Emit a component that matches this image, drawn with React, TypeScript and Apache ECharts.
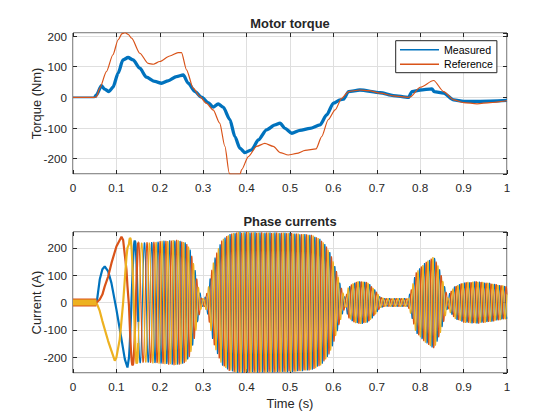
import React, { useEffect, useRef } from "react";
import * as echarts from "echarts";

const BLUE = "#0072BD";
const ORANGE = "#D95319";
const YELLOW = "#EDB120";
const INK = "#262626";
const GRIDC = "#dfdfdf";
const FONT = "Liberation Sans, Arial, Helvetica, sans-serif";

const X_TICKS = [0, 0.1, 0.2, 0.3, 0.4, 0.5, 0.6, 0.7, 0.8, 0.9, 1];

// Motor torque (Nm): [time s, value]
const TORQUE_REF: number[][] = [
  [0, 0], [0.05, 0], [0.054, 2], [0.0617, 30], [0.077, 84], [0.092, 139], [0.104, 188],
  [0.113, 208], [0.12, 211], [0.127, 206], [0.135, 193], [0.154, 144], [0.173, 111],
  [0.185, 108], [0.2, 117], [0.223, 135], [0.242, 146], [0.25, 146], [0.2615, 90],
  [0.277, 30], [0.292, 3], [0.307, -19], [0.323, -41], [0.338, -84], [0.35, -160],
  [0.36, -247], [0.362, -250], [0.385, -250], [0.3885, -236], [0.404, -193], [0.423, -160],
  [0.442, -150], [0.4615, -160], [0.477, -180], [0.496, -188], [0.5155, -183], [0.535, -173],
  [0.56, -168], [0.573, -128], [0.588, -73], [0.604, -41], [0.619, -3], [0.635, 19],
  [0.661, 24], [0.681, 22], [0.708, 14], [0.738, 5], [0.773, 0], [0.777, 2], [0.8, 33],
  [0.831, 55], [0.854, 19], [0.877, -8], [0.9, -17], [0.931, -21], [0.961, -17], [1, -11],
];

// measured torque: quiet part before start, then the noisy part
const TORQUE_MEAS_IDLE: number[][] = [[0, 0], [0.05, 0]];
const TORQUE_MEAS: number[][] = [
  [0.05, 0], [0.054, 8], [0.0654, 38], [0.073, 27], [0.083, 19], [0.092, 33],
  [0.104, 79], [0.115, 122], [0.127, 130], [0.1385, 122], [0.154, 95], [0.169, 66],
  [0.1885, 52], [0.204, 46], [0.219, 54], [0.2385, 68], [0.254, 73], [0.2655, 46],
  [0.281, 19], [0.296, 1], [0.3115, -17], [0.323, -32], [0.3345, -21], [0.346, -32],
  [0.3615, -73], [0.373, -128], [0.3846, -166], [0.396, -180], [0.4115, -171], [0.427, -139],
  [0.446, -106], [0.4655, -90], [0.477, -84], [0.4885, -101], [0.504, -117], [0.523, -108],
  [0.546, -101], [0.569, -90], [0.5845, -57], [0.6, -19], [0.6155, -8], [0.623, -6],
  [0.635, 19], [0.661, 24], [0.708, 15], [0.738, 6], [0.773, 0], [0.781, 19], [0.8, 24],
  [0.827, 28], [0.832, 19], [0.854, 14], [0.877, -8], [0.9, -13], [0.938, -13], [1, -10],
];

// Phase currents (A), start-up part read point by point
const IA_START: number[][] = [
  [0, 0], [0.055, 4], [0.0616, 84], [0.0677, 122], [0.0731, 132], [0.081, 114],
  [0.0886, 71], [0.1, -25], [0.1117, -134], [0.1194, -207], [0.1255, -238],
];
const IB_START: number[][] = [
  [0, 0], [0.055, 1], [0.0616, 11], [0.0677, 29], [0.0731, 59], [0.081, 95],
  [0.0886, 144], [0.1, 205], [0.1117, 241], [0.1155, 229], [0.1232, 120], [0.1255, 60],
];
const IC_START: number[][] = [
  [0, 0], [0.055, -4], [0.0616, -31], [0.0677, -68], [0.0731, -98], [0.081, -141],
  [0.0886, -177], [0.0963, -213], [0.1, -201], [0.1078, -134], [0.1155, -1],
  [0.1232, 168], [0.1255, 200],
];

// Later part: amplitude envelope (A) and electrical frequency (Hz)
const ENV_T = [
  0.129, 0.14, 0.16, 0.2, 0.24, 0.26, 0.27, 0.28, 0.29, 0.297, 0.303, 0.31, 0.323, 0.331,
  0.343, 0.36, 0.38, 0.5, 0.55, 0.57, 0.58, 0.592, 0.6, 0.61, 0.62, 0.628, 0.634, 0.645,
  0.66, 0.68, 0.694, 0.708, 0.72, 0.772, 0.78, 0.79, 0.81, 0.832, 0.845, 0.857, 0.864,
  0.868, 0.88, 0.9, 0.93, 0.96, 0.98, 1.0,
];
const ENV_A = [
  240, 228, 220, 225, 230, 220, 195, 130, 50, 15, 15, 40, 145, 182,
  229, 250, 258, 255, 248, 232, 215, 185, 150, 100, 45, 15, 55, 72,
  80, 74, 50, 20, 15, 15, 50, 110, 145, 170, 120, 55, 15,
  35, 60, 74, 78, 72, 66, 60,
];
const FREQ_T = [0.129, 0.14, 0.15, 0.165, 0.18, 0.2, 0.23, 0.26, 1.0];
const FREQ_HZ = [26, 33, 42, 55, 64, 73, 82, 87, 87];
const MODEL_T0 = 0.129;
const MODEL_THETA0_DEG = 213;
const MODEL_DT = 0.0003;
const THICK_UNTIL = 0.15; // low-speed part drawn with a heavier (noisy) stroke

// Sensor noise band before start (width drawn as a thick line)
const NOISE_BAND: number[][] = [[0, 0], [0.054, 0]];

function knot(ts: number[], vs: number[], t: number): number {
  if (t <= ts[0]) return vs[0];
  for (let i = 1; i < ts.length; i++) {
    if (t <= ts[i]) {
      const f = (t - ts[i - 1]) / (ts[i] - ts[i - 1]);
      return vs[i - 1] + f * (vs[i] - vs[i - 1]);
    }
  }
  return vs[vs.length - 1];
}

function buildPhases() {
  const a = IA_START.slice();
  const b = IB_START.slice();
  const c = IC_START.slice();
  let th = (MODEL_THETA0_DEG * Math.PI) / 180;
  const n = Math.round((1 - MODEL_T0) / MODEL_DT);
  for (let i = 0; i <= n; i++) {
    const t = MODEL_T0 + i * MODEL_DT;
    const amp = knot(ENV_T, ENV_A, t);
    a.push([t, amp * Math.cos(th)]);
    b.push([t, amp * Math.cos(th - (2 * Math.PI) / 3)]);
    c.push([t, amp * Math.cos(th - (4 * Math.PI) / 3)]);
    th += 2 * Math.PI * knot(FREQ_T, FREQ_HZ, t) * MODEL_DT;
  }
  return [a, b, c];
}

function splitAt(d: number[][], tCut: number) {
  const k = d.findIndex((p) => p[0] > tCut);
  return [d.slice(0, k + 1), d.slice(k)];
}

const GRID_LEFT = 73;
const GRID_RIGHT = 53;

function xAxes(gridIndex: number) {
  const base = {
    gridIndex,
    type: "value" as const,
    min: X_TICKS[0],
    max: X_TICKS[X_TICKS.length - 1],
    interval: 0.1,
    axisLine: { show: false, onZero: false },
    axisTick: { show: true, inside: true, length: 4, lineStyle: { color: INK, width: 1 } },
  };
  return [
    {
      ...base,
      position: "bottom",
      axisLabel: { color: INK, fontSize: 11.7, fontFamily: FONT, margin: 7 },
      splitLine: { show: true, lineStyle: { color: GRIDC, width: 1 } },
    },
    {
      ...base,
      position: "top",
      axisLabel: { show: false },
      splitLine: { show: false },
    },
  ];
}

function yAxes(gridIndex: number, min: number, max: number) {
  const base = {
    gridIndex,
    type: "value" as const,
    min,
    max,
    axisLine: { show: false, onZero: false },
    axisTick: { show: true, inside: true, length: 4, lineStyle: { color: INK, width: 1 } },
  };
  return [
    {
      ...base,
      position: "left",
      axisLabel: {
        color: INK, fontSize: 11.7, fontFamily: FONT, margin: 6,
        showMinLabel: false, showMaxLabel: false,
      },
      splitLine: { show: true, lineStyle: { color: GRIDC, width: 1 } },
    },
    {
      ...base,
      position: "right",
      axisLabel: { show: false },
      splitLine: { show: false },
    },
  ];
}

function txt(text: string, x: number, y: number, bold: boolean, rot = 0) {
  return {
    type: "text",
    x,
    y,
    rotation: rot,
    silent: true,
    style: {
      text,
      fill: INK,
      fontSize: 12.9,
      fontWeight: bold ? "bold" : "normal",
      fontFamily: FONT,
      align: "center",
      verticalAlign: "middle",
    },
  };
}

export default function App() {
  const ref = useRef<HTMLDivElement>(null);
  useEffect(() => {
    document.body.style.margin = "0";
    if (!ref.current) return;
    const chart = echarts.init(ref.current, undefined, { renderer: "svg" });
    const phases = buildPhases();
    const colors = [BLUE, ORANGE, YELLOW];
    const parts = phases.map((d) => splitAt(d, THICK_UNTIL));
    const line = (
      name: string, data: number[][], color: string, width: number,
      xi: number, yi: number, smooth = false,
    ) => ({
      name,
      type: "line",
      xAxisIndex: xi,
      yAxisIndex: yi,
      data,
      showSymbol: false,
      symbol: "none",
      smooth: smooth ? 0.25 : false,
      smoothMonotone: smooth ? "x" : undefined,
      lineStyle: { color, width },
      itemStyle: { color },
    });
    const phaseSeries: any[] = [];
    // late (dense) part first, then early heavier strokes, keep phase order blue/orange/yellow
    parts.forEach((p, i) => phaseSeries.push(line("late" + i, p[1], colors[i], 1.15, 2, 2)));
    parts.forEach((p, i) => phaseSeries.push(line("early" + i, p[0], colors[i], 2.2, 2, 2)));

    chart.setOption({
      animation: false,
      backgroundColor: "#ffffff",
      grid: [
        { left: GRID_LEFT, right: GRID_RIGHT, top: 33, height: 141, show: true, borderColor: INK, borderWidth: 1, backgroundColor: "#fff" },
        { left: GRID_LEFT, right: GRID_RIGHT, top: 232, height: 141, show: true, borderColor: INK, borderWidth: 1, backgroundColor: "#fff" },
      ],
      xAxis: [...xAxes(0), ...xAxes(1)],
      yAxis: [...yAxes(0, -250, 210), ...yAxes(1, -258, 258)],
      legend: {
        data: ["Measured", "Reference"],
        orient: "vertical",
        left: 395.7,
        top: 40.7,
        icon: "rect",
        itemWidth: 39,
        itemHeight: 1.5,
        itemGap: 1.5,
        padding: [2.5, 4, 2, 4.3],
        borderColor: INK,
        borderWidth: 1,
        backgroundColor: "#ffffff",
        selectedMode: false,
        textStyle: { color: "#000", fontSize: 10.6, fontFamily: FONT, lineHeight: 13 },
      },
      graphic: [
        txt("Motor torque", 290, 23, true),
        txt("Phase currents", 290, 221.7, true),
        txt("Torque (Nm)", 36, 103.5, false, Math.PI / 2),
        txt("Current (A)", 36, 302.5, false, Math.PI / 2),
        txt("Time (s)", 290, 403.5, false),
      ],
      series: [
        line("Measured idle", TORQUE_MEAS_IDLE, BLUE, 1.6, 0, 0),
        line("Measured", TORQUE_MEAS, BLUE, 3.3, 0, 0, true),
        line("Reference", TORQUE_REF, ORANGE, 1.2, 0, 0, true),
        ...phaseSeries,
        line("noise b", NOISE_BAND, ORANGE, 8, 2, 2),
        line("noise c", NOISE_BAND, YELLOW, 6, 2, 2),
      ],
    });
    return () => chart.dispose();
  }, []);
  return <div ref={ref} style={{ width: 560, height: 420 }} />;
}
